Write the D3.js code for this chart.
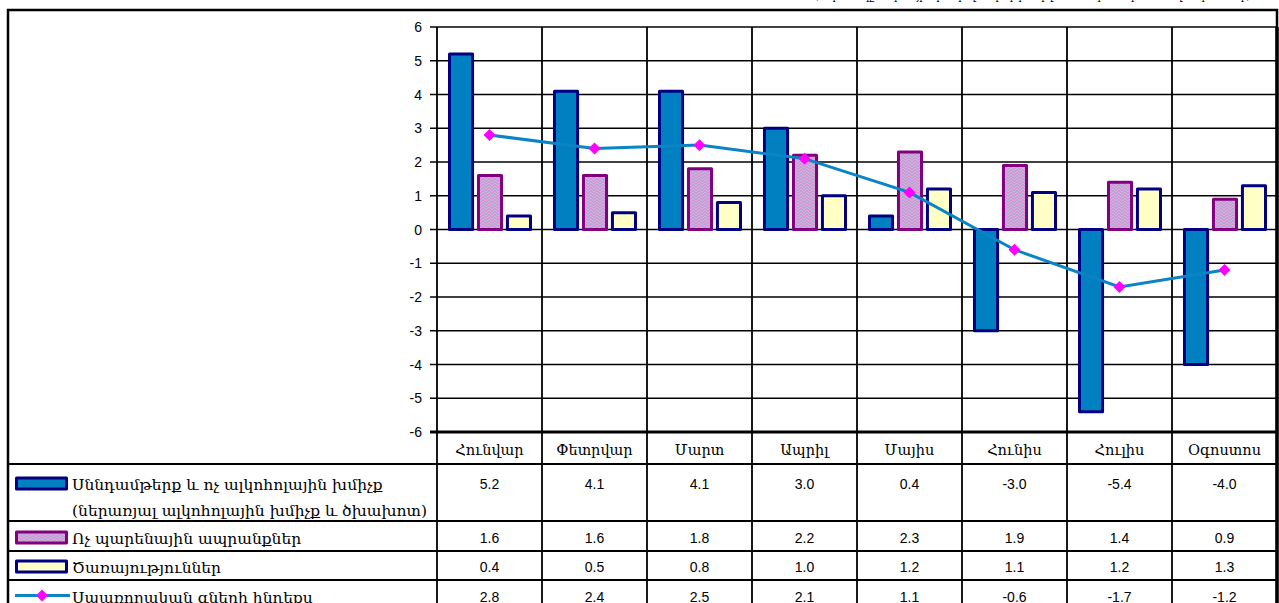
<!DOCTYPE html>
<html>
<head>
<meta charset="utf-8">
<script src="https://cdn.jsdelivr.net/npm/d3@7"></script>
<style>
  body { margin: 0; background: #fff; }
  svg { display: block; }
</style>
</head>
<body>
<svg id="chart" width="1279" height="603"></svg>
<script>
// Données du graphique
const months = ['Հունվար', 'Փետրվար', 'Մարտ', 'Ապրիլ', 'Մայիս', 'Հունիս', 'Հուլիս', 'Օգոստոս']
const foodValues = [5.2, 4.1, 4.1, 3.0, 0.4, -3.0, -5.4, -4.0]
const nonFoodValues = [1.6, 1.6, 1.8, 2.2, 2.3, 1.9, 1.4, 0.9]
const servicesValues = [0.4, 0.5, 0.8, 1.0, 1.2, 1.1, 1.2, 1.3]
const cpiValues = [2.8, 2.4, 2.5, 2.1, 1.1, -0.6, -1.7, -1.2]
const seriesNames = [
  ['Սննդամթերք և ոչ ալկոհոլային խմիչք', '(ներառյալ ալկոհոլային խմիչք և ծխախոտ)'],
  ['Ոչ պարենային ապրանքներ'],
  ['Ծառայություններ'],
  ['Սպառողական գների ինդեքս']
]
const yTicks = [-6, -5, -4, -3, -2, -1, 0, 1, 2, 3, 4, 5, 6]
const headerText = '(աճի տեմպը տոկոսային կետերով՝ նախորդ տարվա համապատասխան ամսվա նկատմամբ)'

// Mise en page
const frameLeft = 8
const frameTop = 10
const plotLeft = 437
const plotRight = 1277
const plotTop = 27
const plotBottom = 432
const rowLines = [464, 521, 551, 580, 610] //bas de chaque ligne du tableau
const armFont = '"DejaVu Serif", serif'
const numFont = '"Liberation Sans", Arial, sans-serif'

const svg = d3.select('#chart')

const x = d3.scaleBand().domain(months).range([plotLeft, plotRight])
const inner = d3.scaleBand().domain([0, 1, 2]).range([11, 95]).paddingInner(0.1)
const y = d3.scaleLinear().domain([-6, 6]).range([plotBottom, plotTop])
const fmt = d => d3.format('.1f')(d).replace('\u2212', '-')

// Motif pour les produits non alimentaires
const defs = svg.append('defs')
const pat = defs.append('pattern')
  .attr('id', 'weave')
  .attr('patternUnits', 'userSpaceOnUse')
  .attr('width', 6).attr('height', 6)
pat.append('rect').attr('width', 6).attr('height', 6).attr('fill', '#d895d2')
pat.append('path')
  .attr('d', 'M0,3 L3,0 L6,3 M0,6 L3,3 L6,6')
  .attr('fill', 'none').attr('stroke', '#a8cbe4').attr('stroke-width', 0.9)

// Texte en haut (coupé)
svg.append('text')
  .attr('x', 815).attr('y', -1)
  .attr('textLength', 435).attr('lengthAdjust', 'spacingAndGlyphs')
  .attr('font-family', armFont).attr('font-size', 14)
  .text(headerText)

// Grille horizontale
svg.append('g').selectAll('line')
  .data(yTicks)
  .enter().append('line')
  .attr('x1', plotLeft - 7).attr('x2', plotRight)
  .attr('y1', d => y(d)).attr('y2', d => y(d))
  .attr('stroke', '#000')
  .attr('stroke-width', d => d === -6 ? 3 : 1.6)

// Étiquettes de l'axe Y
svg.append('g').selectAll('text')
  .data(yTicks)
  .enter().append('text')
  .attr('x', plotLeft - 15).attr('y', d => y(d))
  .attr('dy', '0.36em')
  .attr('text-anchor', 'end')
  .attr('font-family', numFont).attr('font-size', 14)
  .text(d => d)

// Lignes verticales (graphique + tableau)
const bounds = months.map(m => x(m)).concat([plotRight])
svg.append('g').selectAll('line')
  .data(bounds)
  .enter().append('line')
  .attr('x1', d => d).attr('x2', d => d)
  .attr('y1', plotTop).attr('y2', 610)
  .attr('stroke', '#000')
  .attr('stroke-width', (d, i) => i === bounds.length - 1 ? 3.5 : 1.8)

// Barres
const barSeries = [
  {values: foodValues, fill: '#0080c0', stroke: '#000080'},
  {values: nonFoodValues, fill: 'url(#weave)', stroke: '#800080'},
  {values: servicesValues, fill: '#ffffc6', stroke: '#000080'}
]
barSeries.forEach(function (s, k) {
  svg.append('g').selectAll('rect')
    .data(s.values)
    .enter().append('rect')
    .attr('x', (d, i) => x(months[i]) + inner(k) + 1.5)
    .attr('width', inner.bandwidth() - 3)
    .attr('y', d => Math.min(y(d), y(0)))
    .attr('height', d => Math.abs(y(d) - y(0)))
    .attr('fill', s.fill)
    .attr('stroke', s.stroke)
    .attr('stroke-width', 3)
    .attr('stroke-linejoin', 'round')
})

// Ligne IPC
const cx = (d, i) => x(months[i]) + x.bandwidth() / 2
svg.append('path')
  .datum(cpiValues)
  .attr('d', d3.line().x(cx).y(d => y(d)))
  .attr('fill', 'none')
  .attr('stroke', '#0a84c4')
  .attr('stroke-width', 3)

const diamond = 'M0,-6 L6,0 L0,6 L-6,0Z'
svg.append('g').selectAll('path')
  .data(cpiValues)
  .enter().append('path')
  .attr('d', diamond)
  .attr('transform', (d, i) => 'translate(' + cx(d, i) + ',' + y(d) + ')')
  .attr('fill', '#ff00ff')

// Tableau de données
svg.append('g').selectAll('line')
  .data(rowLines.slice(0, 4))
  .enter().append('line')
  .attr('x1', frameLeft).attr('x2', plotRight)
  .attr('y1', d => d).attr('y2', d => d)
  .attr('stroke', '#000').attr('stroke-width', 1.8)

// Noms des mois
svg.append('g').selectAll('text')
  .data(months)
  .enter().append('text')
  .attr('x', d => x(d) + x.bandwidth() / 2)
  .attr('y', 455)
  .attr('text-anchor', 'middle')
  .attr('font-family', armFont).attr('font-size', 14.5)
  .text(d => d)

const tableRows = [
  {values: foodValues, base: 489, key: 'bar', s: barSeries[0]},
  {values: nonFoodValues, base: 543, key: 'bar', s: barSeries[1]},
  {values: servicesValues, base: 572, key: 'bar', s: barSeries[2]},
  {values: cpiValues, base: 602, key: 'line'}
]
tableRows.forEach(function (row, r) {
  const g = svg.append('g')
  //Valeurs
  g.selectAll('text.val')
    .data(row.values)
    .enter().append('text')
    .attr('class', 'val')
    .attr('x', (d, i) => x(months[i]) + x.bandwidth() / 2)
    .attr('y', row.base)
    .attr('text-anchor', 'middle')
    .attr('font-family', numFont).attr('font-size', 14)
    .text(fmt)
  //Libellé
  seriesNames[r].forEach(function (line, j) {
    g.append('text')
      .attr('x', 72).attr('y', row.base + 1 + j * 26)
      .attr('font-family', armFont).attr('font-size', 15.5)
      .text(line)
  })
  //Clé de légende
  const my = row.base - 5.5
  if (row.key === 'bar') {
    g.append('rect')
      .attr('x', 16.5).attr('y', my - 5.5)
      .attr('width', 50).attr('height', 11)
      .attr('fill', row.s.fill).attr('stroke', row.s.stroke)
      .attr('stroke-width', 3).attr('stroke-linejoin', 'round')
  } else {
    g.append('line')
      .attr('x1', 15).attr('x2', 70).attr('y1', my - 1).attr('y2', my - 1)
      .attr('stroke', '#0a84c4').attr('stroke-width', 3)
    g.append('path')
      .attr('d', diamond)
      .attr('transform', 'translate(42,' + (my - 1) + ')')
      .attr('fill', '#ff00ff')
  }
})

// Cadre
svg.append('path')
  .attr('d', 'M' + frameLeft + ',610 V' + frameTop + ' H' + plotRight + ' V610')
  .attr('fill', 'none').attr('stroke', '#000').attr('stroke-width', 2.5)
</script>
</body>
</html>
